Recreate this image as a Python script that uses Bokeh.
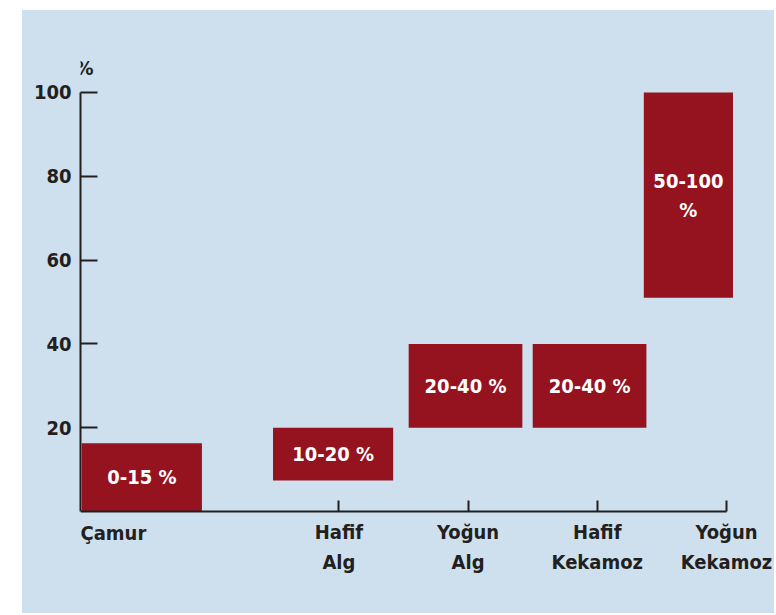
from bokeh.plotting import figure
from bokeh.models import Range1d, FixedTicker, Label, ColumnDataSource, Spacer
from bokeh.layouts import row, column
from bokeh.core.properties import value
from bokeh.embed import file_html
from bokeh.resources import INLINE

# ---- data ----
cat_positions = [0, 2, 3, 4, 5]
cat_labels = ["Çamur", "Hafif\nAlg", "Yoğun\nAlg", "Hafif\nKekamoz", "Yoğun\nKekamoz"]
y_ticks = [20, 40, 60, 80, 100]
unit_label = "%"

bar_left = [0.01, 1.49, 2.54, 3.50, 4.36]
bar_right = [0.94, 2.42, 3.42, 4.38, 5.05]
bar_bottom = [0, 7.4, 20, 20, 51]
bar_top = [16.3, 20, 40, 40, 100]
bar_labels = ["0-15 %", "10-20 %", "20-40 %", "20-40 %", "50-100\n%"]

# ---- style ----
BLUE = "#CEE0EE"
RED = "#95131F"
INK = "#231F20"
FONT = "DejaVu Sans Condensed, Liberation Sans, sans-serif"
FS = "20px"

p = figure(width=752, height=603,
           x_range=Range1d(0, 5.356), y_range=Range1d(-16.23, 112.17),
           output_backend="svg", toolbar_location=None,
           min_border_left=58, min_border_right=2,
           min_border_top=31, min_border_bottom=34)
p.background_fill_color = None
p.border_fill_color = None
p.styles = {"background-color": BLUE}
p.outline_line_color = None
p.grid.visible = False

src = ColumnDataSource(dict(
    left=bar_left, right=bar_right, bottom=bar_bottom, top=bar_top,
    cx=[(a + b) / 2 for a, b in zip(bar_left, bar_right)],
    cy=[(a + b) / 2 for a, b in zip(bar_bottom, bar_top)],
    label=bar_labels,
))
p.quad(left="left", right="right", bottom="bottom", top="top", source=src,
       fill_color=RED, line_color=None)
p.text(x="cx", y="cy", text="label", source=src, text_color="white",
       text_font=value(FONT), text_font_style="bold", text_font_size=FS,
       text_line_height=1.22, text_align="center", text_baseline="middle")

# y axis
ya = p.yaxis[0]
ya.ticker = FixedTicker(ticks=y_ticks)
ya.bounds = (0, 100)
ya.major_tick_in = 17
ya.major_tick_out = 0
ya.minor_tick_line_color = None
ya.axis_line_width = 2
ya.major_tick_line_width = 2
ya.axis_line_color = INK
ya.major_tick_line_color = INK
ya.major_label_standoff = 9
ya.major_label_text_font = FONT
ya.major_label_text_font_size = FS
ya.major_label_text_font_style = "bold"
ya.major_label_text_color = INK

# x axis (line and ticks, fixed at y=0); category names drawn below it
xa = p.xaxis[0]
xa.fixed_location = 0
xa.ticker = FixedTicker(ticks=cat_positions[1:])
xa.major_label_overrides = {pos: "" for pos in cat_positions[1:]}
xa.major_label_standoff = 0
xa.bounds = (0, 5)
xa.major_tick_in = 11
xa.major_tick_out = 0
xa.minor_tick_line_color = None
xa.axis_line_width = 2
xa.major_tick_line_width = 2
xa.axis_line_color = INK
xa.major_tick_line_color = INK

cats = ColumnDataSource(dict(x=cat_positions[1:], y=[0] * 4, text=cat_labels[1:]))
p.text(x="x", y="y", text="text", source=cats, y_offset=36,
       text_align="center", text_baseline="middle", text_line_height=1.25,
       text_font=value(FONT), text_font_size=FS, text_font_style="bold",
       text_color=INK)
p.text(x=[cat_positions[0]], y=[0], text=[cat_labels[0]], y_offset=22,
       text_align="left", text_baseline="middle",
       text_font=value(FONT), text_font_size=FS, text_font_style="bold",
       text_color=INK)
# unit label
p.add_layout(Label(x=0, y=100, text=unit_label, text_align="center",
                   text_baseline="middle", y_offset=24, x_offset=4,
                   text_font=FONT, text_font_size=FS, text_font_style="bold",
                   text_color=INK))

layout = row(Spacer(width=22, height=603), column(Spacer(width=752, height=10), p))
open("out.html", "w").write(file_html(layout, INLINE))
